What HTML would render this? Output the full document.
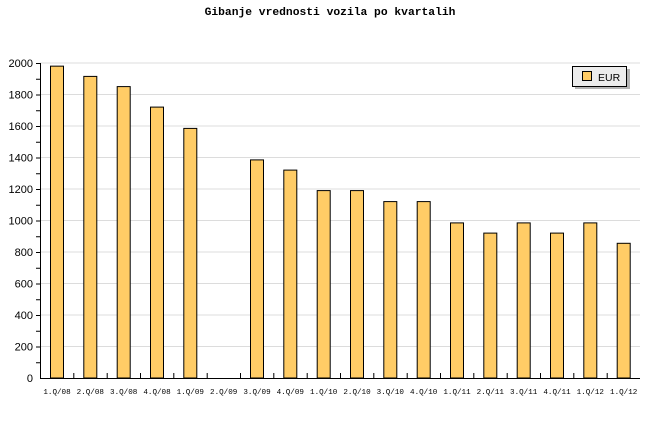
<!DOCTYPE html>
<html><head><meta charset="utf-8"><style>
html,body{margin:0;padding:0;background:#fff;}
svg{display:block;}
</style></head><body>
<svg width="660" height="440" xmlns="http://www.w3.org/2000/svg">
<rect width="660" height="440" fill="#fff"/>
<text x="330" y="15" text-anchor="middle" font-family="Liberation Mono, monospace" font-weight="bold" font-size="11.3">Gibanje vrednosti vozila po kvartalih</text>
<g stroke="#dcdcdc" stroke-width="1">
<line x1="40" x2="640" y1="346.5" y2="346.5"/><line x1="40" x2="640" y1="315" y2="315"/>
<line x1="40" x2="640" y1="283.5" y2="283.5"/><line x1="40" x2="640" y1="252" y2="252"/>
<line x1="40" x2="640" y1="220.5" y2="220.5"/><line x1="40" x2="640" y1="189" y2="189"/>
<line x1="40" x2="640" y1="157.5" y2="157.5"/><line x1="40" x2="640" y1="126" y2="126"/>
<line x1="40" x2="640" y1="94.5" y2="94.5"/><line x1="40" x2="640" y1="63" y2="63"/>
</g>
<g fill="#ffcc66" stroke="#000" stroke-width="1">
<rect x="50.5" y="66.15" width="13" height="311.85"/>
<rect x="83.8" y="76.4" width="13" height="301.6"/>
<rect x="117.2" y="86.6" width="13" height="291.4"/>
<rect x="150.5" y="107.1" width="13" height="270.9"/>
<rect x="183.8" y="128.4" width="13" height="249.6"/>
<rect x="250.5" y="159.9" width="13" height="218.1"/>
<rect x="283.8" y="170.1" width="13" height="207.9"/>
<rect x="317.2" y="190.6" width="13" height="187.4"/>
<rect x="350.5" y="190.6" width="13" height="187.4"/>
<rect x="383.8" y="201.6" width="13" height="176.4"/>
<rect x="417.2" y="201.6" width="13" height="176.4"/>
<rect x="450.5" y="222.9" width="13" height="155.1"/>
<rect x="483.8" y="233.1" width="13" height="144.9"/>
<rect x="517.2" y="222.9" width="13" height="155.1"/>
<rect x="550.5" y="233.1" width="13" height="144.9"/>
<rect x="583.8" y="222.9" width="13" height="155.1"/>
<rect x="617.2" y="243.3" width="13" height="134.7"/>
</g>
<g stroke="#000" stroke-width="1">
<line x1="40.5" y1="63" x2="40.5" y2="378.5"/>
<line x1="40" y1="378.5" x2="640" y2="378.5"/>
</g>
<g stroke="#000" stroke-width="1">
<path d="M36 63.5h4M36 79.25h4M36 95h4M36 110.75h4M36 126.5h4M36 142.25h4M36 158h4M36 173.75h4M36 189.5h4M36 205.25h4M36 221h4M36 236.75h4M36 252.5h4M36 268.25h4M36 284h4M36 299.75h4M36 315.5h4M36 331.25h4M36 347h4M36 362.75h4"/>
<path d="M73.8 378v-5M107.2 378v-5M140.5 378v-5M173.8 378v-5M207.2 378v-5M240.5 378v-5M273.8 378v-5M307.2 378v-5M340.5 378v-5M373.8 378v-5M407.2 378v-5M440.5 378v-5M473.8 378v-5M507.2 378v-5M540.5 378v-5M573.8 378v-5M607.2 378v-5"/>
</g>
<g font-family="Liberation Sans, sans-serif" font-size="11" text-anchor="end">
<text x="33" y="382">0</text><text x="33" y="350.5">200</text><text x="33" y="319">400</text>
<text x="33" y="287.5">600</text><text x="33" y="256">800</text><text x="33" y="224.5">1000</text>
<text x="33" y="193">1200</text><text x="33" y="161.5">1400</text><text x="33" y="130">1600</text>
<text x="33" y="98.5">1800</text><text x="33" y="67">2000</text>
</g>
<g font-family="Liberation Mono, monospace" font-size="7.6" text-anchor="middle">
<text x="57" y="394">1.Q/08</text><text x="90.3" y="394">2.Q/08</text><text x="123.7" y="394">3.Q/08</text>
<text x="157" y="394">4.Q/08</text><text x="190.3" y="394">1.Q/09</text><text x="223.7" y="394">2.Q/09</text>
<text x="257" y="394">3.Q/09</text><text x="290.3" y="394">4.Q/09</text><text x="323.7" y="394">1.Q/10</text>
<text x="357" y="394">2.Q/10</text><text x="390.3" y="394">3.Q/10</text><text x="423.7" y="394">4.Q/10</text>
<text x="457" y="394">1.Q/11</text><text x="490.3" y="394">2.Q/11</text><text x="523.7" y="394">3.Q/11</text>
<text x="557" y="394">4.Q/11</text><text x="590.3" y="394">1.Q/12</text><text x="623.7" y="394">1.Q/12</text>
</g>
<rect x="575" y="69" width="55" height="20" fill="#b4b4b4"/>
<rect x="572.5" y="66.5" width="54" height="20" fill="#ececec" stroke="#000"/>
<rect x="582.5" y="71.5" width="9" height="9" fill="#ffcc66" stroke="#000"/>
<text x="598" y="81" font-family="Liberation Sans, sans-serif" font-size="10.5">EUR</text>
</svg>
</body></html>
